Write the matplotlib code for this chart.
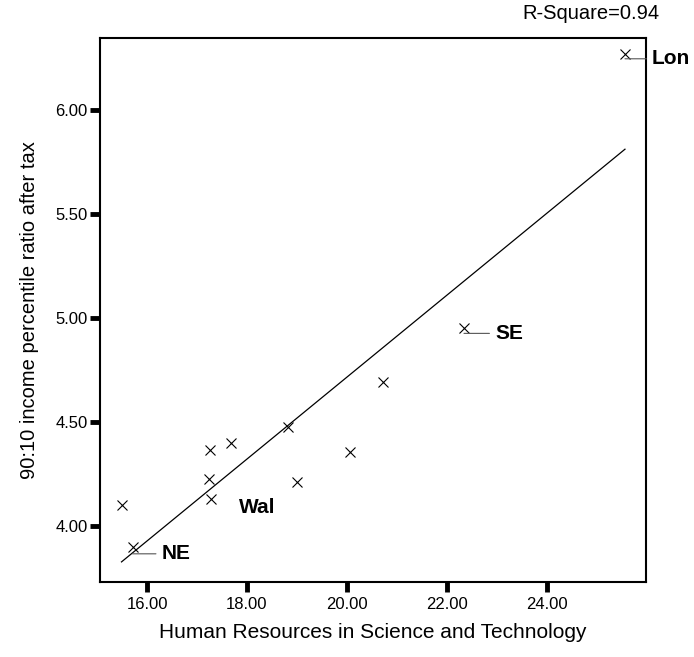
import numpy as np
import matplotlib
matplotlib.use("Agg")
import matplotlib.pyplot as plt
from matplotlib.transforms import offset_copy

plt.rcParams['font.family'] = ['Liberation Sans', 'DejaVu Sans']

# HRST (%) vs 90:10 income ratio after tax, UK regions
hrst = np.array([15.49, 15.71, 17.27, 17.68, 17.24, 17.29, 18.83, 19.01, 20.06, 20.72, 22.34, 25.56])
ratio = np.array([4.10, 3.90, 4.365, 4.40, 4.225, 4.13, 4.475, 4.21, 4.355, 4.69, 4.95, 6.27])
names = ["", "NE", "", "", "", "Wal", "", "", "", "", "SE", "Lon"]
leader = ["NE", "SE", "Lon"]
offsets = {"NE": (29, -7), "Wal": (27, -9), "SE": (31, -5), "Lon": (27, -5)}

xticks = [16, 18, 20, 22, 24]
yticks = [4.0, 4.5, 5.0, 5.5, 6.0]

fig = plt.figure(figsize=(6.94, 6.57), dpi=100)
ax = fig.add_axes([0.1441, 0.1142, 0.7867, 0.828])

ax.plot(hrst, ratio, linestyle='none', marker='x', markersize=7, mew=0.8, color='black')

# linear fit
slope, icpt = np.polyfit(hrst, ratio, 1)
xs = np.array([hrst.min(), hrst.max()])
ax.plot(xs, icpt + slope * xs, color='black', lw=0.9)

for x, y, n in zip(hrst, ratio, names):
    if not n:
        continue
    dx, dy = offsets[n]
    # anchor shifted down so leader line is horizontal
    anchor = offset_copy(ax.transData, fig=fig, x=0, y=dy, units='dots')
    kw = {}
    if n in leader:
        kw['arrowprops'] = dict(arrowstyle='-', color='#555555', lw=0.8,
                                shrinkA=2, shrinkB=0, relpos=(0, 0.5))
    ax.annotate(n, (x, y), xycoords=anchor, xytext=(dx, 0), textcoords='offset pixels',
                ha='left', va='center', fontsize=15, fontweight='bold',
                annotation_clip=False, **kw)

ax.set_xlim(15.06, 25.98)
ax.set_ylim(3.731, 6.346)
ax.set_xticks(xticks)
ax.set_xticklabels([f"{v:.2f}" for v in xticks])
ax.set_yticks(yticks)
ax.set_yticklabels([f"{v:.2f}" for v in yticks])
ax.tick_params(direction='out', length=7, width=3.5, labelsize=12)
ax.tick_params(axis='x', pad=4)
ax.tick_params(axis='y', pad=2)
for s in ax.spines.values():
    s.set_linewidth(1.5)

ax.set_xlabel("Human Resources in Science and Technology", fontsize=15, labelpad=8)
ax.set_ylabel("90:10 income percentile ratio after tax", fontsize=14.5, labelpad=12)

fig.text(0.951, 0.979, "R-Square=0.94", ha='right', va='center', fontsize=14.5)

fig.savefig("out.png", dpi=100)
